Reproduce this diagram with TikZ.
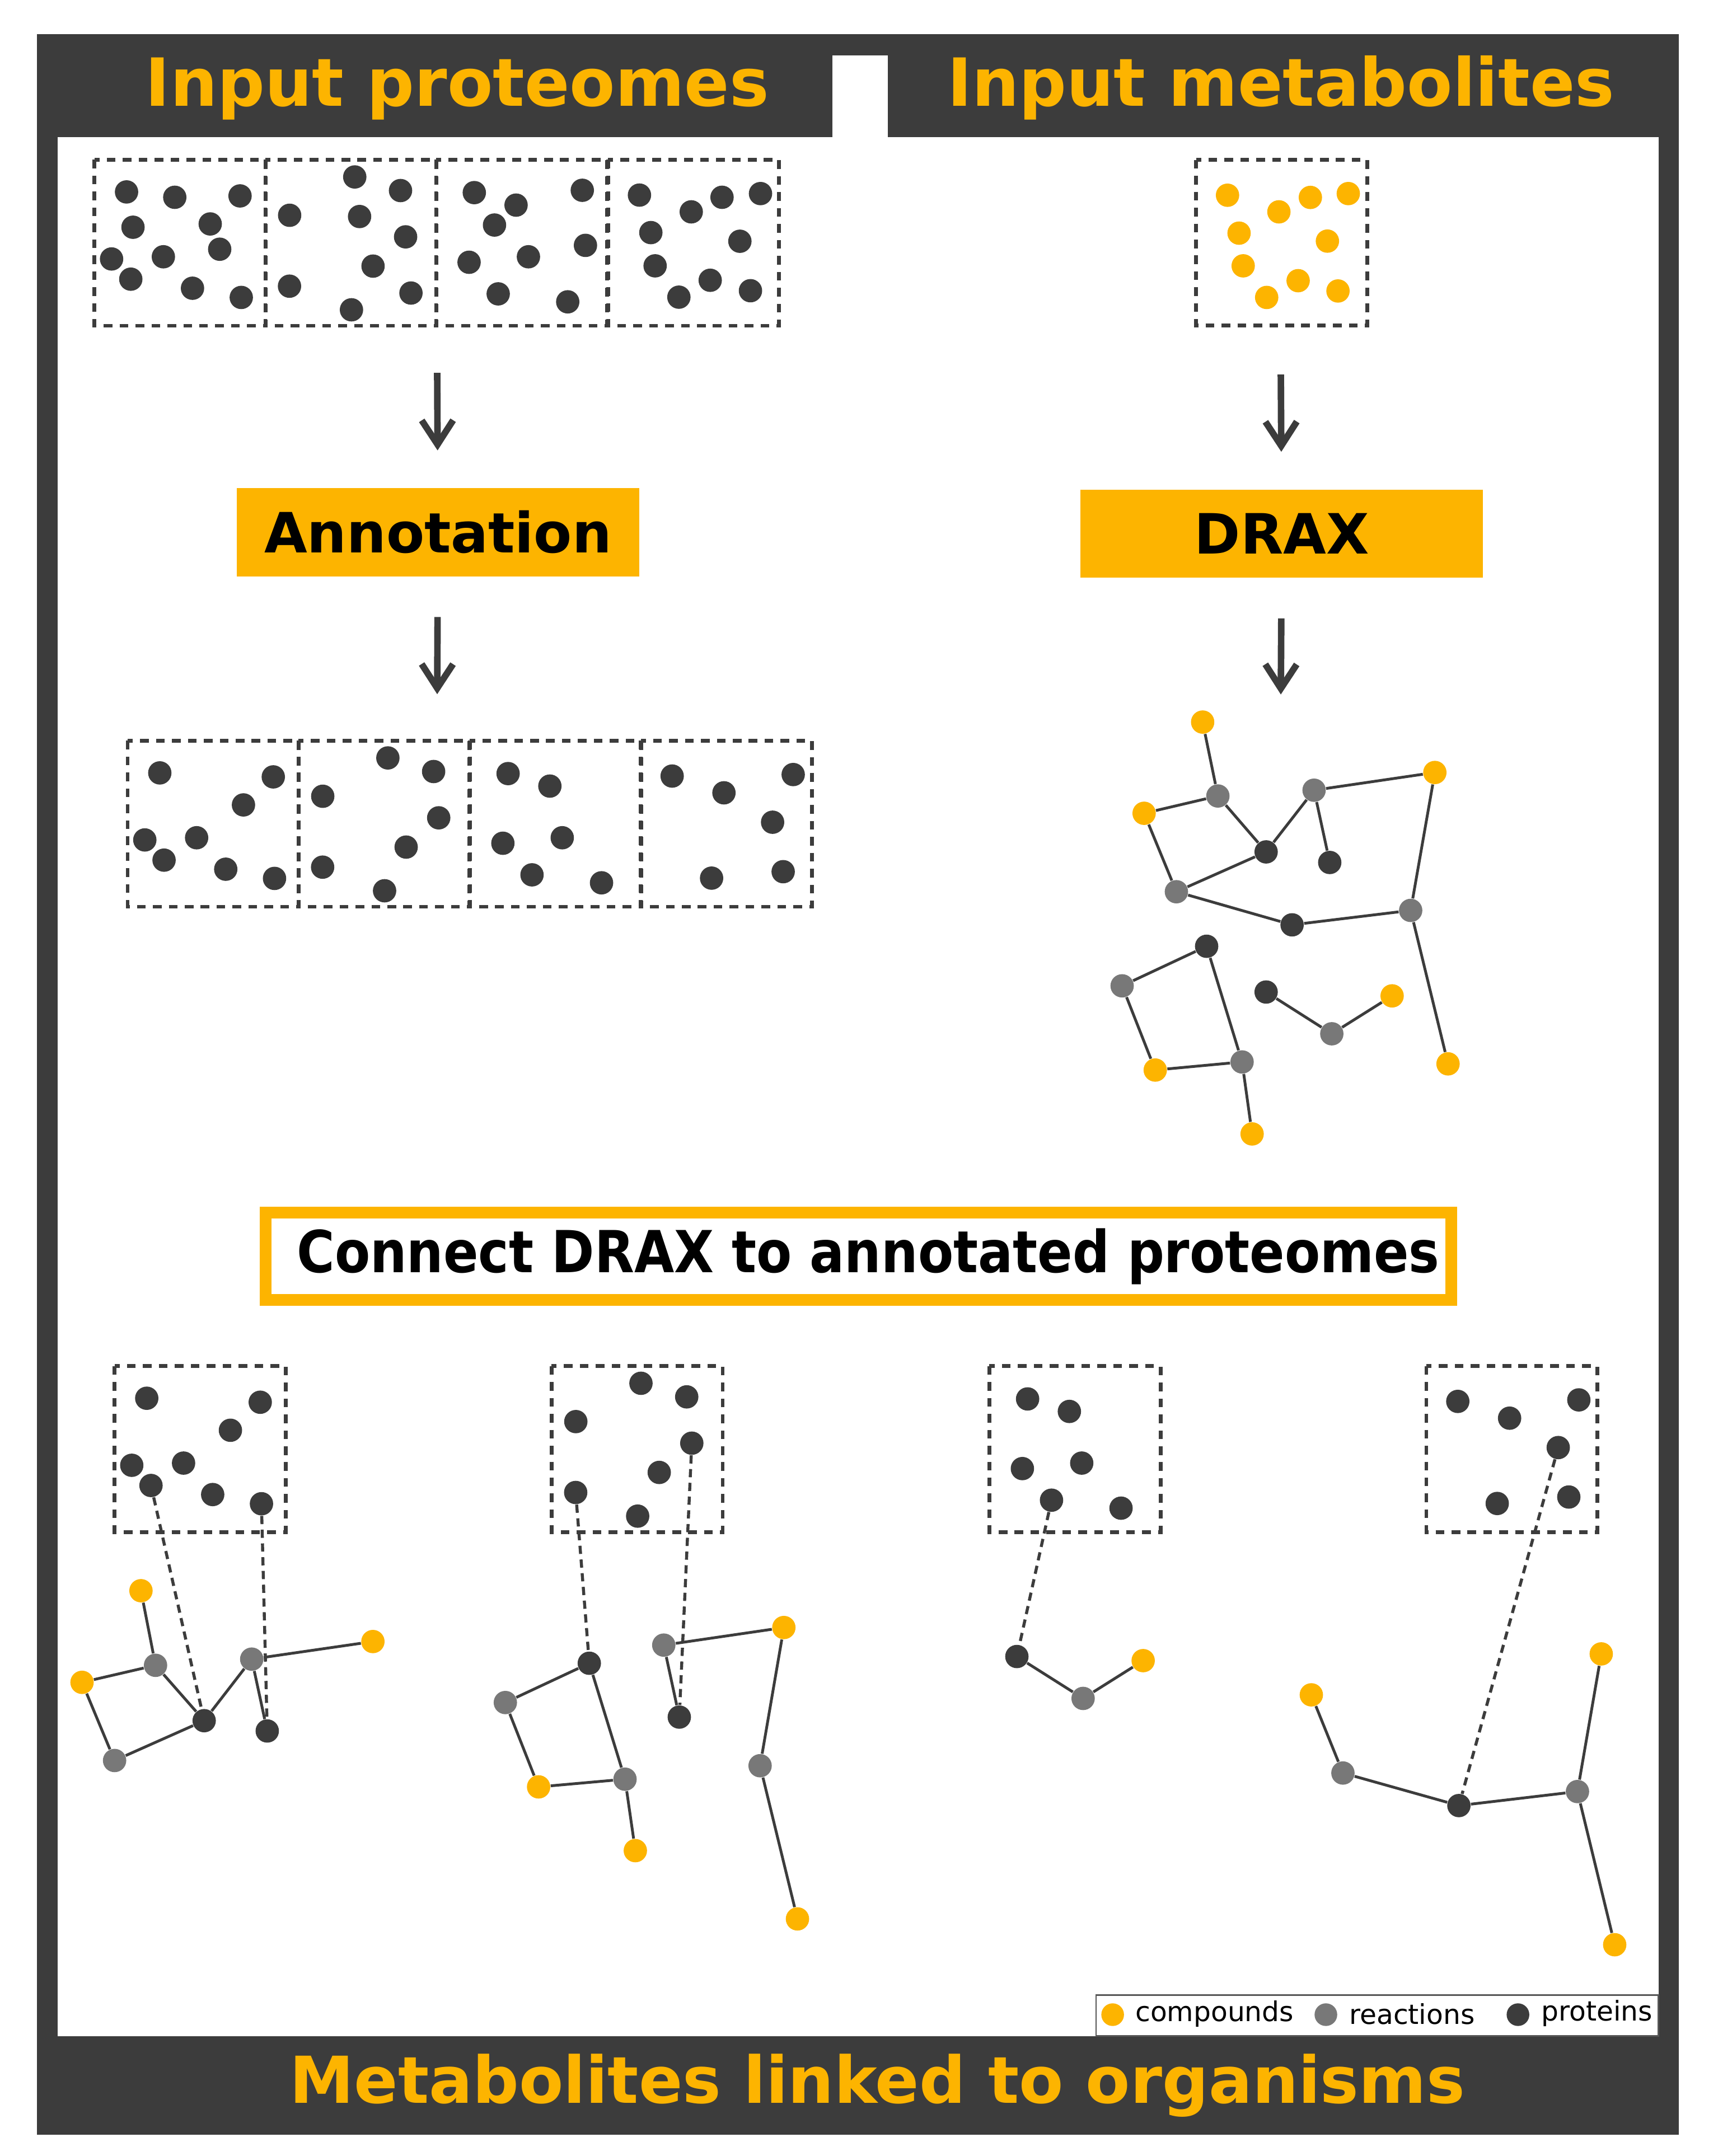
\documentclass[tikz,border=0pt]{standalone}
\usepackage{fontspec}
\setmainfont{DejaVu Sans}
\usetikzlibrary{arrows.meta}

\definecolor{draxorange}{HTML}{FDB400}
\definecolor{framegray}{HTML}{3C3C3C}
\definecolor{reactgray}{HTML}{787878}
\definecolor{legendgray}{HTML}{555555}

\tikzset{
  dot/.style={circle, inner sep=0pt, minimum size=0.34cm},
  compound/.style={dot, fill=draxorange},
  reaction/.style={dot, fill=reactgray},
  protein/.style={dot, fill=framegray},
  proteome/.style={draw=framegray, line width=1.6pt, dash pattern=on 3.6pt off 3pt},
  link/.style={draw=framegray, line width=1.15pt},
  maplink/.style={draw=framegray, line width=1.25pt, dash pattern=on 3.4pt off 2.3pt},
  flow/.style={draw=framegray, line width=2.7pt, -{Straight Barb[length=10pt,width=13pt]}},
  title/.style={text=draxorange, font=\fontsize{27.5}{32}\selectfont\bfseries, inner sep=0pt},
  stepbox/.style={fill=draxorange, minimum width=5.86cm, minimum height=1.286cm, inner sep=0pt,
    font=\fontsize{23}{28}\selectfont\bfseries},
  connectbox/.style={draw=draxorange, line width=4.9pt, fill=white, minimum width=17.264cm,
    minimum height=1.274cm, inner sep=0pt, font=\fontsize{24}{28}\selectfont\bfseries},
  legendtext/.style={font=\fontsize{11.3}{13}\selectfont, inner sep=0pt, anchor=base west},
}

% proteins kept after annotation (box-local positions)
\def\annA{23.4/23.4, 106.0/26.3, 84.3/46.7, 12.5/72.2, 50.2/70.6, 26.5/86.9, 71.4/93.5, 106.9/100.2}
\def\annB{17.7/40.4, 65.1/12.5, 98.4/22.4, 102.1/56.1, 78.4/77.4, 17.6/92.0, 62.7/109.2}
\def\annC{27.8/23.9, 58.2/33.0, 24.0/74.6, 67.2/70.6, 45.2/97.6, 95.8/103.4}
\def\annD{22.9/25.7, 60.6/37.9, 111.0/24.6, 96.0/59.3, 51.6/100.0, 103.7/95.3}

% #1 name, #2 origin, #3 list of dots
\newcommand{\dotbox}[3]{%
  \begin{scope}[shift={#2}]
    \draw[proteome] (0,0) rectangle (124.6,120.8);
    \foreach \x/\y [count=\k] in #3 {\node[protein] (#1-\k) at (\x,\y) {};}
  \end{scope}}

\begin{document}
\begin{tikzpicture}[x=0.02cm, y=-0.02cm]
  \useasboundingbox (0,0) rectangle (1250,1569.4);

  % frame
  \fill[framegray] (27,25) rectangle (1222,1554);
  \fill[white] (42,100) rectangle (1207,1482);
  \fill[white] (606,40.4) rectangle (646,100.5);

  \node[title, anchor=base] (protitle) at (332.8,77.3) {Input proteomes};
  \node[title, anchor=base] (mettitle) at (932.2,77.3) {Input metabolites};

  % input proteomes
  \dotbox{raw1}{(68.7,116.3)}{\annA}
  \dotbox{raw2}{(193.1,116.3)}{\annB}
  \dotbox{raw3}{(317.4,116.3)}{\annC}
  \dotbox{raw4}{(442.5,116.3)}{\annD}
  \foreach \x/\y [count=\k] in {127.2/143.6, 96.8/165.4, 159.9/181.4, 261.7/157.6, 299.1/213.3,
      423.8/138.5, 359.9/163.8, 426.1/178.6, 525.5/143.6, 473.7/169.3, 476.8/193.5, 516.9/204.0}
    \node[protein] (rawx-\k) at (\x,\y) {};

  % input metabolites
  \draw[proteome] (870.5,116.4) rectangle (995.3,237.0);
  \foreach \x/\y [count=\k] in {893.4/142.1, 953.7/143.7, 981.3/140.9, 930.8/154.2, 901.8/169.7,
      966.1/175.5, 904.8/193.5, 944.8/204.3, 921.9/216.5, 973.8/211.8}
    \node[compound] (met-\k) at (\x,\y) {};

  % steps
  \node[stepbox] (annot) at (318.75,387.35) {Annotation};
  \node[stepbox] (drax) at (932.9,388.45) {DRAX};
  \coordinate (rawout) at (318.2,271.4);
  \coordinate (annin) at (318.2,505.3);
  \coordinate (metout) at (932.2,272.6);
  \coordinate (netin) at (932.2,505.5);
  \draw[flow, shorten >=0.54cm] (rawout) -- (annot);
  \draw[flow, shorten <=0.586cm] (annot) -- (annin);
  \draw[flow, shorten >=0.542cm] (metout) -- (drax);
  \draw[flow, shorten <=0.584cm] (drax) -- (netin);

  % annotated proteomes
  \dotbox{ann1}{(92.9,539.2)}{\annA}
  \dotbox{ann2}{(217.2,539.2)}{\annB}
  \dotbox{ann3}{(342.0,539.2)}{\annC}
  \dotbox{ann4}{(466.3,539.2)}{\annD}

  % DRAX network
  \foreach \n/\x/\y in {c1/875.3/525.6, c2/832.7/592.0, c3/1044.3/562.3, c4/1053.9/774.4,
      c5/840.8/778.9, c6/911.3/825.4, c7/1013.2/724.9}
    \node[compound] (\n) at (\x,\y) {};
  \foreach \n/\x/\y in {r1/886.4/579.4, r2/956.4/575.2, r3/856.2/649.1, r4/1026.7/662.7,
      r5/816.7/717.6, r6/904.0/773.0, r7/969.3/752.5}
    \node[reaction] (\n) at (\x,\y) {};
  \foreach \n/\x/\y in {p1/921.5/620.1, p2/967.8/627.8, p3/940.4/673.2, p4/878.2/688.8,
      p5/921.5/722.1}
    \node[protein] (\n) at (\x,\y) {};
  \foreach \a/\b in {c1/r1, r1/c2, r1/p1, p1/r2, r2/p2, r2/c3, c3/r4, c2/r3, r3/p1, r3/p3,
      p3/r4, r4/c4, p4/r5, r5/c5, c5/r6, r6/p4, r6/c6, p5/r7, r7/c7}
    \draw[link] (\a) -- (\b);

  \node[connectbox] (connect) at (624.7,914.45)
    {\hspace*{0.29cm}\scalebox{0.89}[1]{Connect DRAX to annotated proteomes}};

  % organisms
  \dotbox{org1}{(83.4,994.4)}{\annA}
  \dotbox{org2}{(401.4,994.4)}{\annB}
  \dotbox{org3}{(720.1,994.4)}{\annC}
  \dotbox{org4}{(1038.1,994.4)}{\annD}

  \foreach \n/\x/\y in {a-c1/102.6/1157.9, a-c2/59.7/1224.6, a-c3/271.4/1194.9,
      b-c1/392.0/1300.7, b-c2/462.4/1347.1, b-c3/570.5/1184.7, b-c4/580.4/1396.8,
      c-c1/832.0/1208.8, d-c1/954.4/1233.7, d-c2/1165.4/1203.9, d-c3/1175.2/1415.6}
    \node[compound] (\n) at (\x,\y) {};
  \foreach \n/\x/\y in {a-r1/113.2/1212.2, a-r2/183.2/1207.7, a-r3/83.4/1281.5,
      b-r1/367.8/1239.3, b-r2/454.9/1295.1, b-r3/483.1/1197.5, b-r4/553.2/1285.3,
      c-r1/788.3/1236.3, d-r1/977.4/1290.6, d-r2/1148.1/1304.1}
    \node[reaction] (\n) at (\x,\y) {};
  \foreach \n/\x/\y in {a-p1/148.6/1252.5, a-p2/194.5/1260.0, b-p1/428.9/1210.7,
      b-p2/494.4/1249.9, c-p1/740.1/1205.8, d-p1/1061.8/1314.3}
    \node[protein] (\n) at (\x,\y) {};
  \foreach \a/\b in {a-c1/a-r1, a-r1/a-c2, a-r1/a-p1, a-c2/a-r3, a-r3/a-p1, a-p1/a-r2,
      a-r2/a-c3, a-r2/a-p2, b-p1/b-r1, b-r1/b-c1, b-c1/b-r2, b-r2/b-p1, b-r2/b-c2,
      b-r3/b-c3, b-r3/b-p2, b-c3/b-r4, b-r4/b-c4, c-p1/c-r1, c-r1/c-c1,
      d-c1/d-r1, d-r1/d-p1, d-p1/d-r2, d-r2/d-c2, d-r2/d-c3}
    \draw[link] (\a) -- (\b);
  \foreach \a/\b in {org1-6/a-p1, org1-8/a-p2, org2-6/b-p1, org2-4/b-p2, org3-5/c-p1,
      org4-4/d-p1}
    \draw[maplink] (\a) -- (\b);

  % legend
  \draw[legendgray, line width=0.6pt, fill=white] (797.7,1452.2) rectangle (1206.9,1482);
  \node[compound, minimum size=0.33cm] (legc) at (809.8,1466.5) {};
  \node[legendtext] (legct) at (826,1471.4) {compounds};
  \node[reaction, minimum size=0.33cm] (legr) at (965,1466.5) {};
  \node[legendtext] (legrt) at (981.6,1473.3) {reactions};
  \node[protein, minimum size=0.33cm] (legp) at (1104.8,1466.5) {};
  \node[legendtext] (legpt) at (1121.4,1471) {proteins};

  \node[title, anchor=base, font=\fontsize{26.8}{31}\selectfont\bfseries] (orgtitle)
    at (638.6,1530.9) {Metabolites linked to organisms};
\end{tikzpicture}
\end{document}
